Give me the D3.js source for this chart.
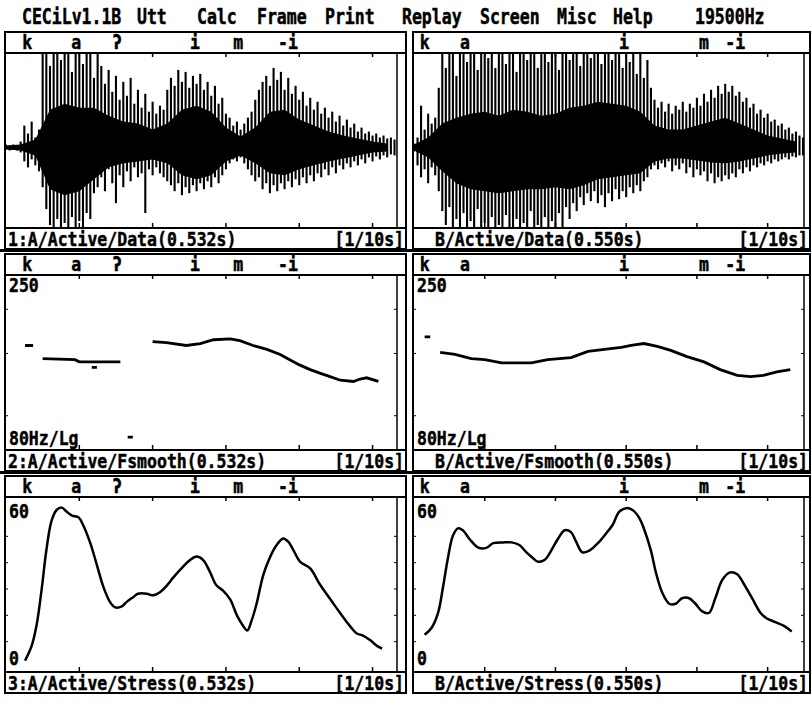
<!DOCTYPE html>
<html>
<head>
<meta charset="utf-8">
<script src="https://cdn.jsdelivr.net/npm/d3@7.9.0/dist/d3.min.js"></script>
<style>
  body { margin: 0; background: #fff; }
  svg text { font-family: "DejaVu Sans Mono", monospace; font-weight: bold; fill: #000; stroke: #000; stroke-width: 0.4px; }
</style>
</head>
<body>
<svg id="chart" width="811" height="705"></svg>
<script>
const menuItems = ['CECiLv1.1B', 'Utt', 'Calc', 'Frame', 'Print', 'Replay', 'Screen', 'Misc', 'Help', '19500Hz'];

const durA = 0.532, durB = 0.55;
const segLabelsA = ['k', 'a', 'ʔ', 'i', 'm', '-i'];
const segTimesA = [0.022, 0.089, 0.145, 0.251, 0.31, 0.371];
const segLabelsB = ['k', 'a', 'i', 'm', '-i'];
const segTimesB = [0.008, 0.065, 0.29, 0.403, 0.44];

const footA = ['1:A/Active/Data(0.532s)', '2:A/Active/Fsmooth(0.532s)', '3:A/Active/Stress(0.532s)'];
const footB = ['B/Active/Data(0.550s)', 'B/Active/Fsmooth(0.550s)', 'B/Active/Stress(0.550s)'];
const scaleNote = '[1/10s]';

// waveform: peak amplitudes every 5 ms (up / down), dense core every 20 ms
const waveA_up = [3,2,3,2,6,22,14,26,10,18,95,95,82,95,95,88,95,95,76,95,95,84,95,95,70,95,82,64,78,56,72,48,66,52,70,44,58,40,54,36,46,34,42,38,58,70,62,78,66,76,60,72,64,74,58,66,52,62,44,50,34,30,22,26,18,24,30,36,48,58,66,72,62,80,68,76,58,70,54,62,48,56,42,50,38,46,34,40,30,36,26,32,22,28,20,24,16,20,14,16,12,14,10,12,9,10,8];
const waveA_lo = [2,3,2,3,5,14,20,12,18,24,40,62,78,80,72,80,76,80,70,80,74,80,66,72,46,40,30,44,22,36,56,28,40,24,34,20,30,26,66,22,28,20,26,30,34,38,44,36,48,40,46,38,44,36,42,34,40,30,36,28,22,16,12,14,10,16,22,28,34,30,42,36,46,38,44,36,42,34,40,32,38,30,36,28,34,26,30,22,28,20,26,18,22,16,20,14,18,12,16,10,14,9,12,8,10,7,8];
const waveA_coreUp = [2,3,8,38,44,40,40,32,26,24,18,24,38,42,36,20,11,20,36,38,28,22,16,12,9,6,4];
const waveA_coreLo = [2,3,8,42,48,44,32,20,16,14,12,16,28,32,28,14,8,16,26,28,22,18,14,11,8,5,4];

const waveB_up = [4,10,42,18,34,24,30,60,95,80,95,95,72,95,95,86,95,95,78,95,95,90,95,80,95,95,84,95,95,76,95,95,88,95,95,80,95,95,86,95,95,78,95,95,88,95,95,82,95,95,90,95,95,84,95,95,88,95,95,80,95,86,95,74,95,70,88,60,48,40,46,36,44,34,42,38,46,36,44,40,50,42,54,46,58,50,62,54,64,56,62,52,56,46,50,40,44,34,38,30,34,26,28,22,24,18,20,14,16,12,10];
const waveB_lo = [4,18,30,22,36,20,28,44,64,78,60,80,72,80,66,80,74,80,62,80,76,80,70,80,78,80,68,80,80,72,80,76,80,64,80,78,80,70,80,74,80,66,80,60,72,56,64,50,58,46,54,44,56,48,60,46,54,42,52,44,50,40,46,38,44,34,30,22,18,22,16,20,14,24,18,22,16,26,20,30,22,28,24,34,26,36,30,34,28,32,26,30,22,26,20,24,18,20,16,18,14,16,12,14,12,10,12,9,10,8,8];
const waveB_coreUp = [3,10,24,30,34,36,32,38,36,32,34,40,42,46,44,42,36,22,18,18,22,26,30,24,18,12,9,6];
const waveB_coreLo = [3,10,24,36,42,44,46,44,42,42,40,42,38,32,30,28,26,14,11,11,13,15,16,14,11,8,6,5];

// smoothed F0 (Hz, log axis 80..250); null = unvoiced gap
const f0A_t  = [0.026,0.037,null,0.050,0.094,0.100,0.156,null,0.117,0.124,null,0.166,0.173,null,
  0.200,0.219,0.246,0.265,0.283,0.306,0.319,0.337,0.356,0.374,0.387,0.401,0.415,0.428,0.442,0.456,0.474,0.483,0.492,0.508];
const f0A_hz = [158,158,null,145,144,142,142,null,137,137,null,87,87,null,
  162,161,158,160,164,165,163,158,154,149,144,139,135,132,129,126,125,127,128,125];
const f0B_t  = [0.015,0.023,null,
  0.037,0.058,0.081,0.100,0.124,0.166,0.189,0.222,0.246,0.269,0.293,0.307,0.325,0.344,0.363,0.386,0.410,0.433,0.457,0.476,0.494,0.513,0.532];
const f0B_hz = [167,167,null,
  151,149,145,144,141,141,144,146,152,154,156,158,160,157,153,147,142,135,130,129,130,133,135];

// stress contour (0..60)
const stressA_t = [0.026,0.035,0.042,0.049,0.055,0.062,0.069,0.076,0.083,0.090,0.099,0.105,0.115,0.124,0.133,0.142,0.149,0.158,0.165,0.174,0.180,0.192,0.201,0.210,0.219,0.228,0.240,0.251,0.260,0.269,0.278,0.287,0.296,0.306,0.315,0.324,0.329,0.335,0.342,0.351,0.360,0.369,0.378,0.385,0.392,0.401,0.415,0.428,0.442,0.456,0.469,0.478,0.487,0.497,0.506,0.513];
const stressA_v = [2.8,8.4,16.7,30.7,44.6,55.8,60.0,60.9,59.3,57.9,57.2,54.4,47.4,39.1,30.7,25.0,23.0,23.4,25.2,27.0,28.2,28.2,27.6,28.8,31.2,34.3,38.0,41.0,42.3,41.0,36.6,31.4,29.4,26.0,20.0,15.8,14.2,18.0,24.6,35.4,42.0,46.6,49.2,48.0,44.8,40.4,37.8,31.8,26.3,20.8,16.0,13.2,12.3,10.5,8.4,7.4];
const stressB_t = [0.015,0.025,0.034,0.041,0.048,0.055,0.062,0.069,0.079,0.091,0.102,0.112,0.126,0.138,0.149,0.159,0.168,0.175,0.185,0.194,0.203,0.213,0.222,0.229,0.238,0.248,0.260,0.271,0.281,0.290,0.300,0.309,0.318,0.325,0.335,0.342,0.351,0.361,0.370,0.379,0.389,0.398,0.407,0.417,0.426,0.436,0.447,0.457,0.466,0.478,0.490,0.499,0.511,0.523,0.534];
const stressB_v = [12.6,15.3,20.9,30.7,41.8,50.2,53.0,52.3,48.8,45.7,45.6,47.4,47.7,47.7,46.7,43.9,41.8,40.4,41.1,44.6,48.8,52.3,51.6,48.1,43.9,44.6,47.4,50.9,54.4,59.3,60.7,60.0,57.2,53.0,44.6,36.3,28.6,24.4,24.4,26.5,26.5,24.4,21.6,20.9,26.5,33.5,36.3,35.6,32.1,26.5,20.9,18.8,17.4,16.0,13.9];

// ---- layout ----
const svg = d3.select('#chart');
const menuX = [22, 137, 197, 257, 325, 402, 480, 557, 613, 695];
const rowTop = [32, 254, 476];
const labH = 21, plotH = 175, footH = 21;

const cols = [
  { x0: 5, x1: 406, xr: 396, dur: durA, segs: segLabelsA, segT: segTimesA, foot: footA, footX: 8,
    up: waveA_up, lo: waveA_lo, cUp: waveA_coreUp, cLo: waveA_coreLo,
    f0t: f0A_t, f0: f0A_hz, st: stressA_t, sv: stressA_v },
  { x0: 413, x1: 810, xr: 803, dur: durB, segs: segLabelsB, segT: segTimesB, foot: footB, footX: 435,
    up: waveB_up, lo: waveB_lo, cUp: waveB_coreUp, cLo: waveB_coreLo,
    f0t: f0B_t, f0: f0B_hz, st: stressB_t, sv: stressB_v }
];

function txt(g, x, y, s, anchor = 'start', sy = 1.2) {
  g.append('text')
    .attr('transform', `translate(${x},${y}) scale(1,${sy})`)
    .attr('text-anchor', anchor)
    .style('font-size', '16.5px')
    .text(s);
}

// menu bar
menuItems.forEach((m, i) => txt(svg, menuX[i], 24, m, 'start', 1.28));

cols.forEach((c) => {
  const x = d3.scaleLinear().domain([0, c.dur]).range([c.x0 + 1, c.xr]);
  const ticks = x.ticks(6).filter((t) => t > 0);

  rowTop.forEach((top, r) => {
    const g = svg.append('g');
    const pTop = top + labH, pBot = pTop + plotH, fBot = pBot + footH;

    // frame
    g.append('rect').attr('x', c.x0).attr('y', top).attr('width', c.x1 - c.x0).attr('height', fBot - top)
      .attr('fill', 'none').attr('stroke', '#000').attr('stroke-width', 2);
    g.append('line').attr('x1', c.x0).attr('x2', c.x1).attr('y1', pTop).attr('y2', pTop)
      .attr('stroke', '#000').attr('stroke-width', 2);
    g.append('line').attr('x1', c.x0).attr('x2', c.x1).attr('y1', pBot).attr('y2', pBot)
      .attr('stroke', '#000').attr('stroke-width', 2);
    g.append('line').attr('x1', c.xr + 1).attr('x2', c.xr + 1).attr('y1', pTop).attr('y2', pBot)
      .attr('stroke', '#000').attr('stroke-width', 1.5);

    // 1/10 s ticks
    ticks.forEach((t) => {
      g.append('line').attr('x1', x(t)).attr('x2', x(t)).attr('y1', pTop).attr('y2', pTop + 4)
        .attr('stroke', '#000').attr('stroke-width', 1.5);
      g.append('line').attr('x1', x(t)).attr('x2', x(t)).attr('y1', pBot - 5).attr('y2', pBot)
        .attr('stroke', '#000').attr('stroke-width', 1.5);
    });

    // segment labels
    c.segs.forEach((s, i) => txt(g, x(c.segT[i]), top + 17, s));

    // footer
    txt(g, c.footX, fBot - 3, c.foot[r]);
    txt(g, c.x1 - 2, fBot - 3, scaleNote, 'end');

    if (r < 2) {
      svg.append('rect').attr('x', 0).attr('y', fBot).attr('width', 811).attr('height', 3).attr('fill', '#000');
    }

    if (r === 0) {
      // waveform
      const y = d3.scaleLinear().domain([-81, 95]).range([pBot, pTop]).clamp(true);
      const core = c.cUp.map((u, i) => ({ t: i * 0.02, u: u, l: c.cLo[i] })).filter((d) => d.t <= c.dur);
      g.append('path').datum(core)
        .attr('d', d3.area().x((d) => x(d.t)).y0((d) => y(-d.l)).y1((d) => y(d.u)))
        .attr('fill', '#000');
      c.up.forEach((u, i) => {
        const t = i * 0.005;
        if (t > c.dur) return;
        g.append('line').attr('x1', x(t)).attr('x2', x(t)).attr('y1', y(-c.lo[i])).attr('y2', y(u))
          .attr('stroke', '#000').attr('stroke-width', 2.1);
      });
    } else if (r === 1) {
      // F0
      const y = d3.scaleLog().domain([80, 250]).range([pBot, pTop]);
      [100, 150, 200].forEach((v) => {
        g.append('line').attr('x1', c.x0).attr('x2', c.x0 + 3).attr('y1', y(v)).attr('y2', y(v)).attr('stroke', '#000');
        g.append('line').attr('x1', c.xr - 2).attr('x2', c.xr + 1).attr('y1', y(v)).attr('y2', y(v)).attr('stroke', '#000');
      });
      const pts = c.f0t.map((t, i) => ({ t: t, v: c.f0[i] }));
      g.append('path').datum(pts)
        .attr('d', d3.line().defined((d) => d.v != null).x((d) => x(d.t)).y((d) => y(d.v)))
        .attr('fill', 'none').attr('stroke', '#000').attr('stroke-width', 2.8);
      txt(g, c.x0 + 4, pTop + 17, '250');
      txt(g, c.x0 + 4, pBot - 5, '80Hz/Lg');
    } else {
      // stress
      const y = d3.scaleLinear().domain([0, 60]).range([pBot - 4, pTop + 13]);
      [10, 20, 30, 40, 50].forEach((v) => {
        g.append('line').attr('x1', c.x0).attr('x2', c.x0 + 3).attr('y1', y(v)).attr('y2', y(v)).attr('stroke', '#000');
        g.append('line').attr('x1', c.xr - 2).attr('x2', c.xr + 1).attr('y1', y(v)).attr('y2', y(v)).attr('stroke', '#000');
      });
      const pts = c.st.map((t, i) => ({ t: t, v: c.sv[i] }));
      g.append('path').datum(pts)
        .attr('d', d3.line().x((d) => x(d.t)).y((d) => y(d.v)).curve(d3.curveCatmullRom))
        .attr('fill', 'none').attr('stroke', '#000').attr('stroke-width', 2.5);
      txt(g, c.x0 + 4, pTop + 21, '60');
      txt(g, c.x0 + 4, pBot - 7, '0');
    }
  });
});
</script>
</body>
</html>
